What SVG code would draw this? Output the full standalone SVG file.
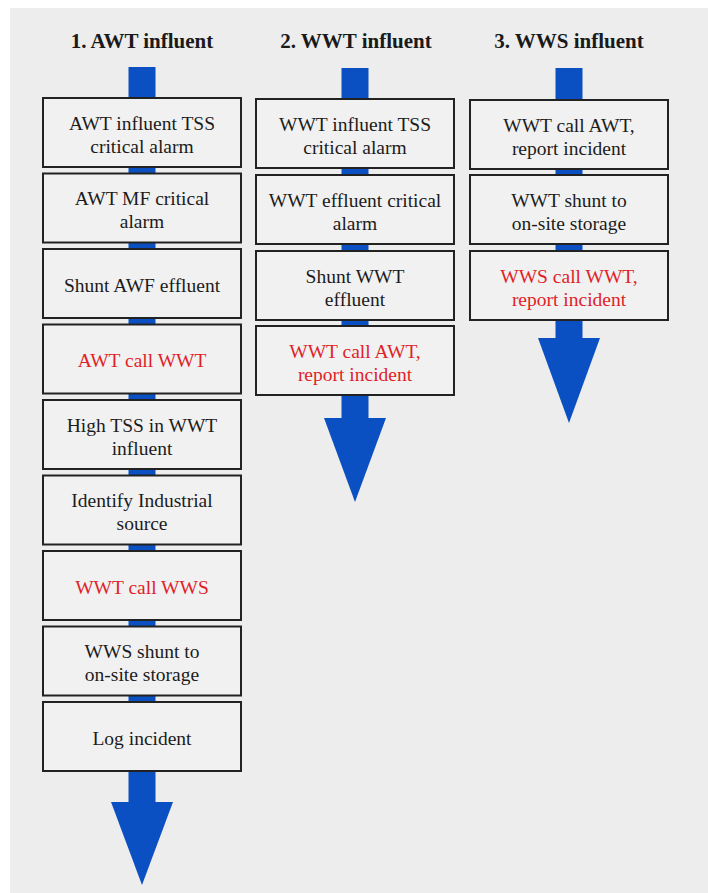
<svg xmlns="http://www.w3.org/2000/svg" width="708" height="893" viewBox="0 0 708 893">
<style>
.bg{fill:#ededed}
.box{fill:#f1f1f1;stroke:#222;stroke-width:2}
.t{font-family:"Liberation Serif","DejaVu Serif",serif;font-size:19.5px;fill:#1c1c1c;text-anchor:middle}
.r{fill:#e01f28}
.h{font-family:"Liberation Serif","DejaVu Serif",serif;font-size:21px;font-weight:bold;fill:#1a1a1a;text-anchor:middle}
.flow{fill:#0a50c2}
</style>
<rect x="0" y="0" width="708" height="893" fill="#ffffff"/>
<rect class="bg" x="10" y="8" width="698" height="885"/>
<g id="headings">
<text class="h" x="142" y="48">1. AWT influent</text>
<text class="h" x="356" y="48">2. WWT influent</text>
<text class="h" x="569" y="48">3. WWS influent</text>
</g>
<g id="connectors">
<rect class="flow" x="128.5" y="67" width="27" height="736"/>
<polygon class="flow" points="111,802 173,802 142,885"/>
<rect class="flow" x="341.5" y="68" width="27" height="351"/>
<polygon class="flow" points="324,418 386,418 355,502"/>
<rect class="flow" x="555.5" y="68" width="27" height="271"/>
<polygon class="flow" points="538,338 600,338 569,423"/>
</g>
<g id="a1"><rect class="box" x="43" y="98" width="198" height="69"/><text class="t" x="142" y="130">AWT influent TSS</text><text class="t" x="142" y="153">critical alarm</text></g>
<g id="a2"><rect class="box" x="43" y="173.5" width="198" height="69"/><text class="t" x="142" y="205">AWT MF critical</text><text class="t" x="142" y="228">alarm</text></g>
<g id="a3"><rect class="box" x="43" y="249" width="198" height="69"/><text class="t" x="142" y="292">Shunt AWF effluent</text></g>
<g id="a4"><rect class="box" x="43" y="324.5" width="198" height="69"/><text class="t r" x="142" y="367">AWT call WWT</text></g>
<g id="a5"><rect class="box" x="43" y="400" width="198" height="69"/><text class="t" x="142" y="432">High TSS in WWT</text><text class="t" x="142" y="455">influent</text></g>
<g id="a6"><rect class="box" x="43" y="475.5" width="198" height="69"/><text class="t" x="142" y="507">Identify Industrial</text><text class="t" x="142" y="530">source</text></g>
<g id="a7"><rect class="box" x="43" y="551" width="198" height="69"/><text class="t r" x="142" y="594">WWT call WWS</text></g>
<g id="a8"><rect class="box" x="43" y="626.5" width="198" height="69"/><text class="t" x="142" y="658">WWS shunt to</text><text class="t" x="142" y="681">on-site storage</text></g>
<g id="a9"><rect class="box" x="43" y="702" width="198" height="69"/><text class="t" x="142" y="745">Log incident</text></g>
<g id="b1"><rect class="box" x="256" y="99" width="198" height="69"/><text class="t" x="355" y="131">WWT influent TSS</text><text class="t" x="355" y="154">critical alarm</text></g>
<g id="b2"><rect class="box" x="256" y="175" width="198" height="69"/><text class="t" x="355" y="207">WWT effluent critical</text><text class="t" x="355" y="230">alarm</text></g>
<g id="b3"><rect class="box" x="256" y="251" width="198" height="69"/><text class="t" x="355" y="283">Shunt WWT</text><text class="t" x="355" y="306">effluent</text></g>
<g id="b4"><rect class="box" x="256" y="326" width="198" height="69"/><text class="t r" x="355" y="358">WWT call AWT,</text><text class="t r" x="355" y="381">report incident</text></g>
<g id="c1"><rect class="box" x="470" y="100" width="198" height="69"/><text class="t" x="569" y="132">WWT call AWT,</text><text class="t" x="569" y="155">report incident</text></g>
<g id="c2"><rect class="box" x="470" y="175" width="198" height="69"/><text class="t" x="569" y="207">WWT shunt to</text><text class="t" x="569" y="230">on-site storage</text></g>
<g id="c3"><rect class="box" x="470" y="251" width="198" height="69"/><text class="t r" x="569" y="283">WWS call WWT,</text><text class="t r" x="569" y="306">report incident</text></g>
</svg>
